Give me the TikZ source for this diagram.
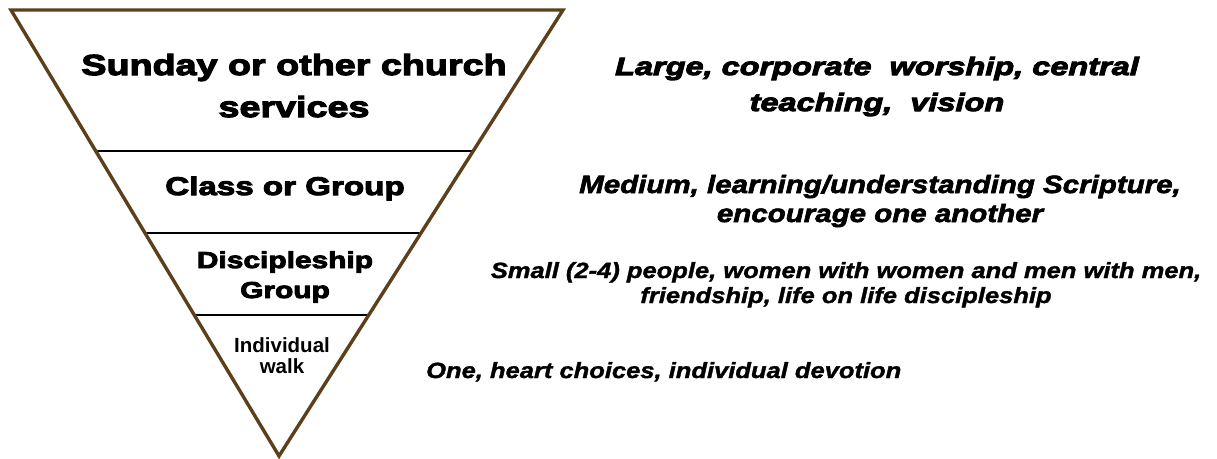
\documentclass[tikz,border=0pt]{standalone}
\usepackage{fontspec}
\setmainfont{Liberation Sans}
\newfontfamily\blackfont{Liberation Sans}[FakeStretch=1.3, BoldFeatures={FakeBold=4}, BoldItalicFeatures={FakeBold=4}]
\newfontfamily\wideital{Liberation Sans}[FakeStretch=1.18, BoldItalicFeatures={FakeBold=2.5}]
\newfontfamily\plainital{Liberation Sans}[FakeStretch=1.16, BoldItalicFeatures={FakeBold=1.5}]
\usetikzlibrary{calc}
\definecolor{pyrbrown}{RGB}{92,64,26}

\begin{document}
\begin{tikzpicture}[x=1pt,y=-1pt,
    level/.style={inner sep=0pt, align=center, anchor=base},
    note/.style={inner sep=0pt, align=center, anchor=base}]
\fill[white] (0,0) rectangle (1217,458);
\useasboundingbox (0,0) rectangle (1217,458);
\coordinate (A) at ( 11,10);
\coordinate (B) at (563,10);
\coordinate (C) at (279,456);
% the three steps inside the pyramid
\foreach \t in {0.316,0.5,0.684}
    \draw[line width=2.8pt] ($(A)!\t!(C)$) -- ($(B)!\t!(C)$);
\draw[pyrbrown, line width=3.4pt] (A) -- (B) -- (C) -- cycle;

% labels inside (base = baseline of the last line)
\node[level, font={\blackfont\bfseries\fontsize{29}{42}\selectfont}] (sunday) at (294,117) {Sunday or other church\\services};
\node[level, font={\blackfont\bfseries\fontsize{25.5}{30}\selectfont}] (class) at (285,195) {Class or Group};
\node[level, font={\blackfont\bfseries\fontsize{23}{30}\selectfont}] (disc) at (285,298) {Discipleship\\Group};
\node[level, font={\bfseries\fontsize{20.5}{21}\selectfont}] (indiv) at (282,373) {Individual\\walk};

% what each step means
\node[note, font={\blackfont\bfseries\itshape\fontsize{25}{36}\selectfont}] (large) at (877,111) {Large, corporate \ worship, central\\teaching, \ vision};
\node[note, font={\wideital\bfseries\itshape\fontsize{25}{29}\selectfont}] (medium) at (880,222) {Medium, learning/understanding Scripture,\\encourage one another};
\node[note, font={\plainital\bfseries\itshape\fontsize{22}{25}\selectfont}] (small) at (846,303) {Small (2-4) people, women with women and men with men,\\friendship, life on life discipleship};
\node[note, anchor=base west, font={\plainital\bfseries\itshape\fontsize{22}{25}\selectfont}] (one) at (426,378) {One, heart choices, individual devotion};
\end{tikzpicture}
\end{document}
